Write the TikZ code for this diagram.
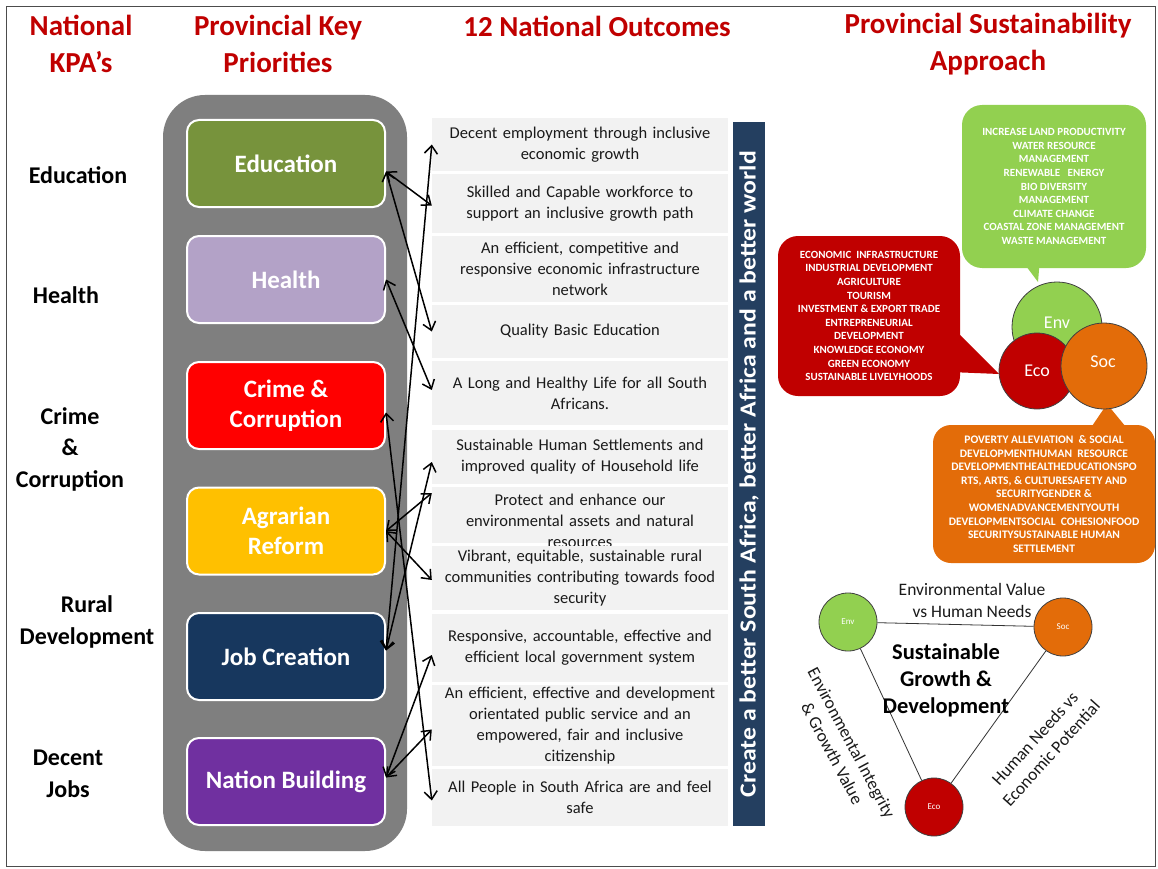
\documentclass[tikz,border=0pt]{standalone}
\usepackage{fontspec}
\setmainfont{Carlito}
\usetikzlibrary{arrows.meta,calc}
\definecolor{titlered}{HTML}{C00000}
\definecolor{framegray}{HTML}{7F7F7F}
\definecolor{educol}{HTML}{77933C}
\definecolor{heacol}{HTML}{B3A2C7}
\definecolor{cricol}{HTML}{FF0000}
\definecolor{agrcol}{HTML}{FFC000}
\definecolor{jobcol}{HTML}{17375E}
\definecolor{natcol}{HTML}{7030A0}
\definecolor{outgray}{HTML}{F2F2F2}
\definecolor{barblue}{HTML}{243F60}
\definecolor{envgreen}{HTML}{92D050}
\definecolor{ecored}{HTML}{C00000}
\definecolor{socorange}{HTML}{E36C09}
\definecolor{txtdark}{HTML}{1A1A1A}
\begin{document}
\begin{tikzpicture}[x=1pt,y=-1pt,
  title/.style={text=titlered, font=\fontsize{29}{37}\selectfont\bfseries, align=center},
  kpa/.style={text=black, font=\fontsize{24}{31.5}\selectfont\bfseries, align=center},
  prio/.style={rounded corners=12pt, draw=white, line width=2pt, minimum width=198pt, minimum height=87pt, text=white, font=\fontsize{25}{30}\selectfont\bfseries, align=center},
  outc/.style={fill=outgray, minimum width=296pt, text width=294pt, align=center, font=\fontsize{16.5}{21}\selectfont, text=txtdark, inner sep=0pt},
  link/.style={<->, line width=1.5pt, >={Straight Barb[length=8pt,width=13pt]}},
  bubble/.style={rounded corners=20pt, text=white, align=center, font=\fontsize{11}{13.6}\selectfont\bfseries, inner sep=0pt},
  bigc/.style={circle, draw=black!75, line width=0.8pt, text=white, font=\fontsize{18}{20}\selectfont},
  smallc/.style={circle, draw=black!75, line width=0.8pt, minimum size=58pt, inner sep=0pt, text=white, font=\fontsize{9}{10}\selectfont},
  tri/.style={draw=black!80, line width=0.8pt},
  trilab/.style={text=txtdark, font=\fontsize{17.5}{22}\selectfont, align=center}
]
\useasboundingbox (0,0) rectangle (1158,869);
\fill[white] (0,0) rectangle (1158,869);
\draw[black!70, line width=0.8pt] (6,6) rectangle (1155,866);

% titles
\node[title] (t1) at (81,44) {National\\KPA’s};
\node[title] (t2) at (278,44) {Provincial Key\\Priorities};
\node[title] (t3) at (597,26) {12 National Outcomes};
\node[title] (t4) at (988,44) {Provincial Sustainability\\Approach};

% national KPAs
\node[kpa] (k1) at (78,175) {Education};
\node[kpa] (k2) at (66,295) {Health};
\node[kpa] (k3) at (70,449) {Crime\\\&\\Corruption};
\node[kpa] (k4) at (87,622) {Rural\\Development};
\node[kpa] (k5) at (68,774) {Decent\\Jobs};

% gray panel
\fill[framegray, rounded corners=42pt] (163,95) rectangle (407,851);

% priorities
\node[prio, fill=educol] (edu) at (286,163.5) {Education};
\node[prio, fill=heacol] (hea) at (286,279.5) {Health};
\node[prio, fill=cricol] (cri) at (286,405.5) {Crime \&\\Corruption};
\node[prio, fill=agrcol] (agr) at (286,531) {Agrarian\\Reform};
\node[prio, fill=jobcol] (job) at (286,656.5) {Job Creation};
\node[prio, fill=natcol] (nat) at (286,781.5) {Nation Building};

% outcomes
\node[outc, minimum height=53pt] (o1) at (580,144.5) {Decent employment through inclusive\\economic growth};
\node[outc, minimum height=59pt] (o2) at (580,203.5) {Skilled and Capable workforce to\\support an inclusive growth path};
\node[outc, minimum height=66pt] (o3) at (580,269) {An efficient, competitive and\\responsive economic infrastructure\\network};
\node[outc, minimum height=53pt] (o4) at (580,331.5) {Quality Basic Education};
\node[outc, minimum height=64pt] (o5) at (580,393) {A Long and Healthy Life for all South\\Africans.};
\node[outc, minimum height=54pt] (o6) at (580,457) {Sustainable Human Settlements and\\improved quality of Household life};
\node[outc, minimum height=56pt] (o7) at (580,515) {\raisebox{-12pt}[0pt][0pt]{\begin{tabular}{@{}c@{}}Protect and enhance our\\environmental assets and natural\\resources\end{tabular}}};
\node[outc, minimum height=64pt] (o8) at (580,578) {Vibrant, equitable, sustainable rural\\communities contributing towards food\\security};
\node[outc, minimum height=68pt] (o9) at (580,648) {Responsive, accountable, effective and\\efficient local government system};
\node[outc, minimum height=81pt] (o10) at (580,725.5) {An efficient, effective and development\\orientated public service and an\\empowered, fair and inclusive\\citizenship};
\node[outc, minimum height=57pt] (o11) at (580,797.5) {All People in South Africa are and feel\\safe};

% blue bar
\node[fill=barblue, minimum width=32pt, minimum height=704pt, inner sep=0pt] (bar) at (749,474) {};
\node[rotate=90, text=white, font=\fontsize{23}{24}\selectfont\bfseries] (bartxt) at (bar.center) {\scalebox{1.12}[1]{Create a better South Africa, better Africa and a better world}};

% links
\draw[link] ([yshift=-8pt]edu.east) -- ([yshift=-2pt]o2.west);
\draw[link] ([yshift=-8pt]edu.east) -- (o4.west);
\draw[link] (hea.east) -- ([yshift=3pt]o5.west);
\draw[link] ([yshift=-7pt]cri.east) -- ([yshift=-3pt]o11.west);
\draw[link] (agr.east) -- ([yshift=22pt]o7.west);
\draw[link] (agr.east) -- ([yshift=-2pt]o8.west);
\draw[link] ([yshift=6pt]job.east) -- (o1.west);
\draw[link] ([yshift=6pt]job.east) -- ([yshift=-5pt]o6.west);
\draw[link] ([yshift=4pt]nat.east) -- ([yshift=-7pt]o9.west);
\draw[link] ([yshift=4pt]nat.east) -- ([yshift=-4pt]o10.west);

% speech bubbles
\fill[envgreen] (1020,258) -- (1040,258) -- (1038,282) -- cycle;
\node[bubble, fill=envgreen, minimum width=184pt, minimum height=163pt] (gb) at (1054,186.5) {INCREASE LAND PRODUCTIVITY\\WATER RESOURCE\\MANAGEMENT\\RENEWABLE \ \ ENERGY\\BIO DIVERSITY\\MANAGEMENT\\CLIMATE CHANGE\\COASTAL ZONE MANAGEMENT\\WASTE MANAGEMENT};
\fill[ecored] (950,325) -- (999,374) -- (950,372) -- cycle;
\node[bubble, fill=ecored, minimum width=182pt, minimum height=160pt] (rb) at (869,316) {ECONOMIC \ INFRASTRUCTURE\\INDUSTRIAL DEVELOPMENT\\AGRICULTURE\\TOURISM\\INVESTMENT \& EXPORT TRADE\\ENTREPRENEURIAL\\DEVELOPMENT\\KNOWLEDGE ECONOMY\\GREEN ECONOMY\\SUSTAINABLE LIVELYHOODS};
\fill[socorange] (1088,432) -- (1107,404) -- (1130,432) -- cycle;
\node[bubble, fill=socorange, rounded corners=18pt, minimum width=222pt, minimum height=138pt, font=\fontsize{11.5}{13.6}\selectfont\bfseries] (ob) at (1044,494) {POVERTY ALLEVIATION \ \& SOCIAL\\DEVELOPMENTHUMAN \ RESOURCE\\DEVELOPMENTHEALTHEDUCATIONSPO\\RTS, ARTS, \& CULTURESAFETY AND\\SECURITYGENDER \&\\WOMENADVANCEMENTYOUTH\\DEVELOPMENTSOCIAL \ COHESIONFOOD\\SECURITYSUSTAINABLE HUMAN\\SETTLEMENT};

% overlapping circles
\node[bigc, fill=envgreen, minimum size=90pt] (cenv) at (1057,327) {};
\node[text=white, font=\fontsize{18}{20}\selectfont] (cenvt) at (1057,323) {Env};
\node[bigc, fill=ecored, minimum size=76pt] (ceco) at (1037,371) {Eco};
\node[bigc, fill=socorange, minimum size=86pt] (csoc) at (1104,366) {};
\node[text=white, font=\fontsize{18}{20}\selectfont] (csoct) at (1103,362) {Soc};

% triangle
\node[smallc, fill=envgreen] (tenv) at (848,622) {Env};
\node[smallc, fill=socorange] (tsoc) at (1063,627) {Soc};
\node[smallc, fill=ecored] (teco) at (934,807) {Eco};
\draw[tri] (tenv) -- (tsoc);
\draw[tri] (tenv) -- (teco);
\draw[tri] (teco) -- (tsoc);
\node[trilab] (lab1) at (972,600) {Environmental Value\\vs Human Needs};
\node[text=black, font=\fontsize{22.5}{27}\selectfont\bfseries, align=center] (center) at (946,680) {Sustainable\\Growth \&\\Development};
\node[trilab, rotate=-62] (lab2) at (842,748) {Environmental Integrity\\\& Growth Value};
\node[trilab, rotate=48] (lab3) at (1043,746) {Human Needs vs\\Economic Potential};
\end{tikzpicture}
\end{document}
